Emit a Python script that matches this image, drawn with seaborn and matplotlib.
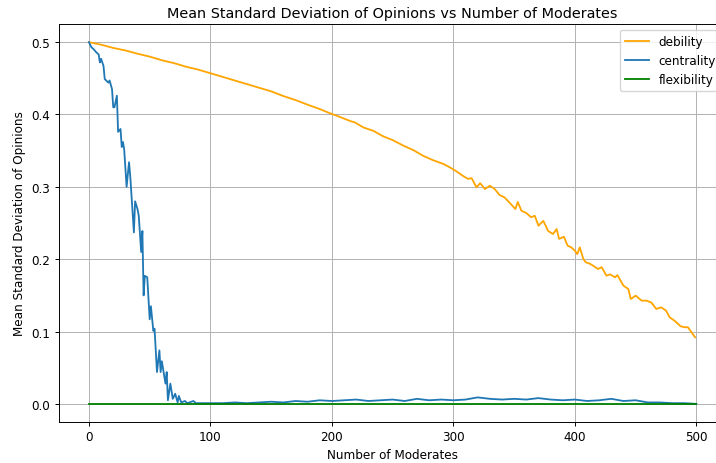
import matplotlib
matplotlib.use("Agg")
import matplotlib.pyplot as plt
import seaborn as sns
import numpy as np

# ---- data ----
deb_x = [0, 10, 20, 30, 40, 50, 60, 70, 80, 90, 100, 110, 120, 130, 140, 150, 160, 170, 180, 190,
         198, 206, 215, 219, 226, 234, 242, 250, 259, 267, 275, 283, 292, 297, 302, 308, 312, 315,
         319, 322, 326, 330, 334, 338, 342, 346, 351, 353, 356, 360, 364, 367, 370, 374, 378, 382,
         385, 387, 391, 394, 397, 400, 402, 404, 407, 409, 412, 415, 419, 422, 426, 429, 433, 435,
         440, 444, 446, 450, 455, 459, 463, 467, 471, 475, 478, 482, 485, 487, 490, 493, 496, 499]
deb_y = [0.500, 0.4965, 0.492, 0.4885, 0.484, 0.480, 0.475, 0.471, 0.466, 0.462, 0.457, 0.452,
         0.447, 0.442, 0.437, 0.432, 0.4255, 0.420, 0.4135, 0.4075,
         0.402, 0.397, 0.391, 0.389, 0.382, 0.3775, 0.370, 0.3646, 0.3568, 0.3508, 0.343, 0.337,
         0.3315, 0.327, 0.322, 0.315, 0.311, 0.312, 0.2993, 0.305, 0.297, 0.3015, 0.297, 0.2887,
         0.2855, 0.2786, 0.2693, 0.279, 0.267, 0.2638, 0.258, 0.260, 0.2463, 0.253, 0.239, 0.2348,
         0.2417, 0.228, 0.231, 0.2187, 0.2164, 0.2118, 0.207, 0.2164, 0.2003, 0.1957, 0.194, 0.191,
         0.1865, 0.189, 0.1772, 0.179, 0.175, 0.178, 0.1634, 0.1588, 0.145, 0.1496, 0.1427, 0.1427,
         0.140, 0.1312, 0.1335, 0.129, 0.1197, 0.115, 0.1105, 0.1073, 0.106, 0.106, 0.099, 0.092]

cen_x = [0, 2, 4, 6, 8, 9, 10, 12, 13, 16, 17, 19, 20, 21, 23, 24, 26, 27, 28, 29, 31, 33, 34,
         37, 38, 40, 41, 43, 44, 45, 46, 48, 50, 51, 53, 54, 56, 58, 59, 60, 63, 64, 65, 67, 69,
         71, 73, 74, 76, 79, 81, 86, 88,
         90, 100, 110, 120, 130, 140, 150, 160, 170, 180, 190, 200, 210, 220, 230, 240, 250, 260,
         270, 280, 290, 300, 310, 320, 330, 340, 350, 360, 370, 380, 390, 400, 410, 420, 430, 440,
         450, 460, 470, 480, 490, 500]
cen_y = [0.500, 0.493, 0.490, 0.486, 0.483, 0.472, 0.477, 0.467, 0.449, 0.444, 0.447, 0.435,
         0.410, 0.410, 0.426, 0.376, 0.380, 0.355, 0.362, 0.352, 0.300, 0.334, 0.315, 0.237, 0.280,
         0.269, 0.260, 0.210, 0.239, 0.150, 0.177, 0.175, 0.117, 0.135, 0.101, 0.104, 0.044, 0.074,
         0.044, 0.059, 0.028, 0.044, 0.005, 0.028, 0.007, 0.014, 0.002, 0.011, 0.002, 0.004, 0.001,
         0.004, 0.001,
         0.001, 0.001, 0.001, 0.002, 0.001, 0.002, 0.003, 0.002, 0.004, 0.003, 0.005, 0.004, 0.005,
         0.006, 0.004, 0.005, 0.006, 0.004, 0.007, 0.005, 0.006, 0.005, 0.006, 0.009, 0.007, 0.006,
         0.007, 0.006, 0.008, 0.006, 0.005, 0.006, 0.004, 0.005, 0.007, 0.004, 0.005, 0.002, 0.002,
         0.001, 0.001, 0.000]

flex_x = [0, 500]
flex_y = [0.0, 0.0]

# ---- styling (reference is a downscaled matplotlib default) ----
s = 0.867
plt.rcParams.update({
    "font.size": 10 * s,
    "axes.titlesize": 12 * s,
    "axes.labelsize": 10 * s,
    "xtick.labelsize": 10 * s,
    "ytick.labelsize": 10 * s,
    "legend.fontsize": 10 * s,
    "axes.linewidth": 0.8 * s,
    "grid.linewidth": 0.8 * s,
    "xtick.major.width": 0.8 * s,
    "ytick.major.width": 0.8 * s,
    "xtick.major.size": 3.5 * s,
    "ytick.major.size": 3.5 * s,
    "xtick.major.pad": 3.5 * s,
    "ytick.major.pad": 3.5 * s,
    "axes.titlepad": 6 * s,
    "axes.labelpad": 4 * s,
})

fig = plt.figure(figsize=(7.16, 4.64), dpi=100)
ax = fig.add_axes([0.0818, 0.0884, 1.015 - 0.0818, 0.946 - 0.0884])

lw = 1.5 * s
sns.lineplot(x=deb_x, y=deb_y, color="orange", label="debility", ax=ax, linewidth=lw)
sns.lineplot(x=cen_x, y=cen_y, color="#1f77b4", label="centrality", ax=ax, linewidth=lw)
sns.lineplot(x=flex_x, y=flex_y, color="green", label="flexibility", ax=ax, linewidth=lw)

ax.set_xlim(-25, 525)
ax.set_ylim(-0.025, 0.525)
ax.set_xticks([0, 100, 200, 300, 400, 500])
ax.set_yticks([0.0, 0.1, 0.2, 0.3, 0.4, 0.5])
ax.grid(True)
ax.set_title("Mean Standard Deviation of Opinions vs Number of Moderates")
ax.set_xlabel("Number of Moderates")
ax.set_ylabel("Mean Standard Deviation of Opinions")
ax.legend(loc="upper right")

fig.savefig("out.png", dpi=100)
